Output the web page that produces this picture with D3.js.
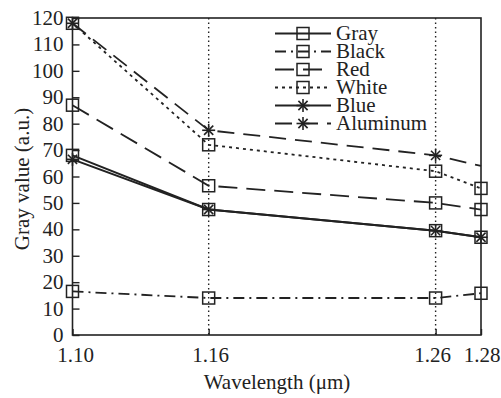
<!DOCTYPE html>
<html><head><meta charset="utf-8">
<script src="https://cdn.jsdelivr.net/npm/d3@7"></script>
<style>body{margin:0;background:#fff}svg{display:block}text{font-family:"Liberation Serif","Times New Roman",serif;fill:#222}</style>
</head><body><svg id="c" width="501" height="398"></svg>
<script>
const wavelengths = [1.10, 1.16, 1.26, 1.28];
const xTickLabels = ["1.10", "1.16", "1.26", "1.28"];
const yTicks = [0,10,20,30,40,50,60,70,80,90,100,110,120];
const seriesNames = ["Gray", "Black", "Red", "White", "Blue", "Aluminum"];
const grayVals = [68, 47.5, 39.5, 37];
const blackVals = [16.5, 14, 14, 15.8];
const redVals = [87, 56.5, 50, 47.5];
const whiteVals = [118, 72, 62, 55.5];
const blueVals = [66.5, 47.5, 39.5, 37];
const aluminumVals = [118, 77.5, 68, 64];

const styles = {
  Gray: {dash: null, marker: "square", w: 2},
  Black: {dash: "11,5,2,5", marker: "square", w: 1.8},
  Red: {dash: "19,9", marker: "square", w: 1.8},
  White: {dash: "3,4", marker: "square", w: 1.8},
  Blue: {dash: null, marker: "star", w: 2},
  Aluminum: {dash: "17,9", marker: "star", w: 1.8}
};
const series = [
  {name: "Gray", vals: grayVals},
  {name: "Black", vals: blackVals},
  {name: "Red", vals: redVals},
  {name: "White", vals: whiteVals},
  {name: "Blue", vals: blueVals},
  {name: "Aluminum", vals: aluminumVals, hideLast: true}
];

const svg = d3.select("#c");
const m = {l: 72.5, r: 481, t: 18, b: 335};
const x = d3.scaleLinear().domain([1.10, 1.28]).range([m.l, m.r]);
const y = d3.scaleLinear().domain([0, 120]).range([m.b, m.t]);
const col = "#222";
const fs = 21;

// vertical dotted lines
[1.16, 1.26].forEach(v => {
  svg.append("line").attr("x1", x(v)).attr("x2", x(v)).attr("y1", m.t).attr("y2", m.b)
    .attr("stroke", col).attr("stroke-width", 1.4).attr("stroke-dasharray", "1.5,3");
});

// frame
svg.append("rect").attr("x", m.l).attr("y", m.t).attr("width", m.r - m.l).attr("height", m.b - m.t)
  .attr("fill", "none").attr("stroke", col).attr("stroke-width", 1.6);

// axes (inward ticks)
const yAxis = d3.axisRight(y).tickValues(yTicks).tickSize(7).tickFormat("");
const gy = svg.append("g").attr("transform", `translate(${m.l},0)`).call(yAxis);
gy.select(".domain").remove();
gy.selectAll("line").attr("stroke", col).attr("stroke-width", 1.4);
yTicks.forEach(v => {
  svg.append("text").attr("x", m.l - 9).attr("y", y(v) + 7).attr("text-anchor", "end")
    .attr("font-size", fs).text(v);
});
const xAxis = d3.axisTop(x).tickValues(wavelengths).tickSize(6).tickFormat("");
const gx = svg.append("g").attr("transform", `translate(0,${m.b})`).call(xAxis);
gx.select(".domain").remove();
gx.selectAll("line").attr("stroke", col).attr("stroke-width", 1.4);
wavelengths.forEach((v, i) => {
  svg.append("text").attr("x", x(v) + (i === 0 ? 3 : i === 2 ? -3 : i === 1 ? 2 : 1)).attr("y", 362).attr("text-anchor", "middle")
    .attr("font-size", fs).text(xTickLabels[i]);
});
svg.append("text").attr("x", 277).attr("y", 389).attr("text-anchor", "middle").attr("font-size", fs)
  .text("Wavelength (μm)");
svg.append("text").attr("transform", "translate(29,179) rotate(-90)").attr("text-anchor", "middle")
  .attr("font-size", fs).text("Gray value (a.u.)");

function drawMarker(g, type, cx, cy) {
  if (type === "square") {
    g.append("rect").attr("x", cx - 6).attr("y", cy - 6).attr("width", 12).attr("height", 12)
      .attr("fill", "none").attr("stroke", col).attr("stroke-width", 1.5);
  } else {
    const r = 6.5;
    [0, 45, 90, 135].forEach(a => {
      const rad = a * Math.PI / 180;
      g.append("line").attr("x1", cx - r * Math.cos(rad)).attr("y1", cy - r * Math.sin(rad))
        .attr("x2", cx + r * Math.cos(rad)).attr("y2", cy + r * Math.sin(rad))
        .attr("stroke", col).attr("stroke-width", 1.6);
    });
  }
}

const line = d3.line().x((d, i) => x(wavelengths[i])).y(d => y(d));
series.forEach(s => {
  const st = styles[s.name];
  const g = svg.append("g");
  g.append("path").attr("d", line(s.vals)).attr("fill", "none").attr("stroke", col)
    .attr("stroke-width", st.w).attr("stroke-dasharray", st.dash);
  s.vals.forEach((v, i) => {
    if (s.hideLast && i === s.vals.length - 1) return;
    drawMarker(g, st.marker, x(wavelengths[i]), y(v));
  });
});

// legend
const lg = svg.append("g");
seriesNames.forEach((n, i) => {
  const st = styles[n];
  const yy = 33.5 + i * 18;
  lg.append("line").attr("x1", 275).attr("x2", 331).attr("y1", yy).attr("y2", yy)
    .attr("stroke", col).attr("stroke-width", st.w).attr("stroke-dasharray", st.dash);
  drawMarker(lg, st.marker, 303, yy);
  lg.append("text").attr("x", 336).attr("y", yy + 6).attr("font-size", fs).text(n);
});
</script></body></html>
